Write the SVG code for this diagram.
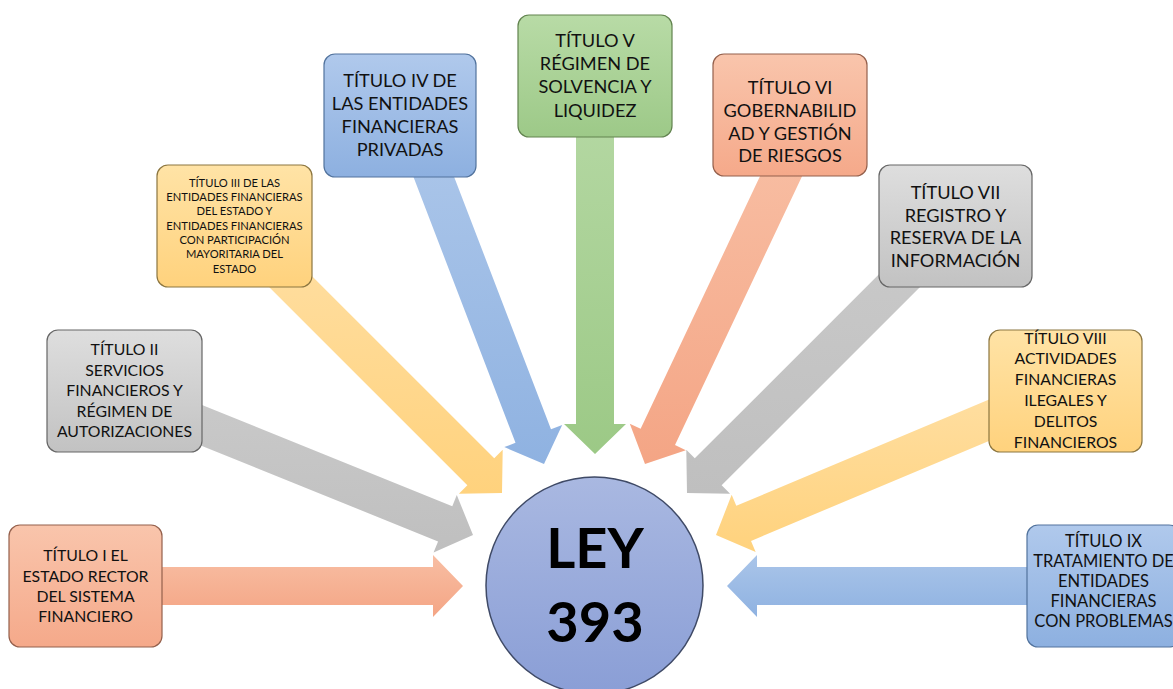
<svg xmlns="http://www.w3.org/2000/svg" width="1173" height="689" viewBox="0 0 1173 689">
<defs>
<linearGradient id="gSal" x1="0" y1="0" x2="0" y2="1"><stop offset="0" stop-color="#f9c5ac"/><stop offset="1" stop-color="#f5a98a"/></linearGradient>
<linearGradient id="gGry" x1="0" y1="0" x2="0" y2="1"><stop offset="0" stop-color="#dedede"/><stop offset="1" stop-color="#c2c2c2"/></linearGradient>
<linearGradient id="gYel" x1="0" y1="0" x2="0" y2="1"><stop offset="0" stop-color="#ffe3a6"/><stop offset="1" stop-color="#ffd27d"/></linearGradient>
<linearGradient id="gBlu" x1="0" y1="0" x2="0" y2="1"><stop offset="0" stop-color="#b0c9ec"/><stop offset="1" stop-color="#8db0e0"/></linearGradient>
<linearGradient id="gGrn" x1="0" y1="0" x2="0" y2="1"><stop offset="0" stop-color="#b8dba6"/><stop offset="1" stop-color="#9dc988"/></linearGradient>
<linearGradient id="aSal" x1="0" y1="0" x2="0" y2="1"><stop offset="0" stop-color="#f8bea3"/><stop offset="1" stop-color="#f4a585"/></linearGradient>
<linearGradient id="aGry" x1="0" y1="0" x2="0" y2="1"><stop offset="0" stop-color="#c9c9c9"/><stop offset="1" stop-color="#bfbfbf"/></linearGradient>
<linearGradient id="aYel" x1="0" y1="0" x2="0" y2="1"><stop offset="0" stop-color="#ffdea0"/><stop offset="1" stop-color="#ffd27d"/></linearGradient>
<linearGradient id="aBlu" x1="0" y1="0" x2="0" y2="1"><stop offset="0" stop-color="#aac5e9"/><stop offset="1" stop-color="#8fb2e1"/></linearGradient>
<linearGradient id="aGrn" x1="0" y1="0" x2="0" y2="1"><stop offset="0" stop-color="#b3d7a1"/><stop offset="1" stop-color="#9cc986"/></linearGradient>
<linearGradient id="gCir" x1="0" y1="0" x2="0" y2="1"><stop offset="0" stop-color="#a9b8e1"/><stop offset="1" stop-color="#8a9ed6"/></linearGradient>
</defs>
<style>
.box{stroke-width:1.2}
.sal{fill:url(#gSal);stroke:#94604c}
.gry{fill:url(#gGry);stroke:#666666}
.yel{fill:url(#gYel);stroke:#8c7640}
.blu{fill:url(#gBlu);stroke:#52739d}
.grn{fill:url(#gGrn);stroke:#62834f}
.t{font-family:Lato,"Liberation Sans",sans-serif;fill:#111111;text-anchor:middle}
.m{font-size:15.8px}
.m2{font-size:16.5px}
.l{font-size:18.2px}
.s{font-size:11.2px}
.big{font-family:Lato,"Liberation Sans",sans-serif;font-weight:bold;font-size:56px;fill:#000;text-anchor:middle}
</style>
<g id="connectors">
<polygon fill="url(#aSal)" points="463,586 433,617 433,605 153,605 153,567 433,567 433,555"/>
<polygon fill="url(#aGry)" points="473,535 433.57,552.5 438.06,541.38 178.45,436.49 192.69,401.25 452.3,506.14 456.79,495.02"/>
<polygon fill="url(#aYel)" points="502,493 458.87,493.71 467.35,485.23 262.29,280.17 289.17,253.29 494.23,458.35 502.71,449.87"/>
<polygon fill="url(#aBlu)" points="544,464 504.31,447.1 515.51,442.8 411.57,172.06 447.05,158.44 550.99,429.18 562.19,424.88"/>
<polygon fill="url(#aGrn)" points="595,454 564,424 576,424 576,129 614,129 614,424 626,424"/>
<polygon fill="url(#aSal)" points="645,464 629.79,423.63 640.64,428.76 773.1,148.5 807.5,164.7 675,445 685.85,450.13"/>
<polygon fill="url(#aGry)" points="687,493 686.29,449.87 694.77,458.35 906.9,246.3 933.8,273.2 721.65,485.23 730.13,493.71"/>
<polygon fill="url(#aYel)" points="716,535 731.65,494.79 736.3,505.85 994.43,397.35 1009.15,432.39 751.02,540.89 755.67,551.95"/>
<polygon fill="url(#aBlu)" points="727,586 757,555 757,567 1037,567 1037,605 757,605 757,617"/>
</g>
<g id="n1">
<rect class="box sal" x="9" y="525" width="153" height="122" rx="11"/>
<text class="t m"><tspan x="85.5" y="561">TÍTULO I EL</tspan><tspan x="85.5" y="581.5">ESTADO RECTOR</tspan><tspan x="85.5" y="602">DEL SISTEMA</tspan><tspan x="85.5" y="622.3">FINANCIERO</tspan></text>
</g>
<g id="n2">
<rect class="box gry" x="47" y="330" width="155" height="122" rx="11"/>
<text class="t m"><tspan x="124.5" y="355">TÍTULO II</tspan><tspan x="124.5" y="375.5">SERVICIOS</tspan><tspan x="124.5" y="396">FINANCIEROS Y</tspan><tspan x="124.5" y="416.5">RÉGIMEN DE</tspan><tspan x="124.5" y="437">AUTORIZACIONES</tspan></text>
</g>
<g id="n3">
<rect class="box yel" x="157" y="165" width="155" height="122" rx="11"/>
<text class="t s"><tspan x="234.5" y="186.7">TÍTULO III DE LAS</tspan><tspan x="234.5" y="201">ENTIDADES FINANCIERAS</tspan><tspan x="234.5" y="215.3">DEL ESTADO Y</tspan><tspan x="234.5" y="229.6">ENTIDADES FINANCIERAS</tspan><tspan x="234.5" y="243.9">CON PARTICIPACIÓN</tspan><tspan x="234.5" y="258.2">MAYORITARIA DEL</tspan><tspan x="234.5" y="272.5">ESTADO</tspan></text>
</g>
<g id="n4">
<rect class="box blu" x="324" y="54" width="152" height="123" rx="11"/>
<text class="t l"><tspan x="400" y="87">TÍTULO IV DE</tspan><tspan x="400" y="110">LAS ENTIDADES</tspan><tspan x="400" y="133">FINANCIERAS</tspan><tspan x="400" y="156">PRIVADAS</tspan></text>
</g>
<g id="n5">
<rect class="box grn" x="518" y="15" width="154" height="122" rx="11"/>
<text class="t l"><tspan x="595" y="46.7">TÍTULO V</tspan><tspan x="595" y="70">RÉGIMEN DE</tspan><tspan x="595" y="93.3">SOLVENCIA Y</tspan><tspan x="595" y="116.6">LIQUIDEZ</tspan></text>
</g>
<g id="n6">
<rect class="box sal" x="713" y="54" width="154" height="122" rx="11"/>
<text class="t l"><tspan x="790" y="94.3">TÍTULO VI</tspan><tspan x="790" y="117">GOBERNABILID</tspan><tspan x="790" y="139.6">AD Y GESTIÓN</tspan><tspan x="790" y="162.3">DE RIESGOS</tspan></text>
</g>
<g id="n7">
<rect class="box gry" x="879" y="165" width="153" height="122" rx="11"/>
<text class="t l"><tspan x="955.5" y="199">TÍTULO VII</tspan><tspan x="955.5" y="221.5">REGISTRO Y</tspan><tspan x="955.5" y="244">RESERVA DE LA</tspan><tspan x="955.5" y="266.5">INFORMACIÓN</tspan></text>
</g>
<g id="n8">
<rect class="box yel" x="989" y="330" width="153" height="122" rx="11"/>
<text class="t m"><tspan x="1065.5" y="343.5">TÍTULO VIII</tspan><tspan x="1065.5" y="364.3">ACTIVIDADES</tspan><tspan x="1065.5" y="385.1">FINANCIERAS</tspan><tspan x="1065.5" y="405.9">ILEGALES Y</tspan><tspan x="1065.5" y="426.7">DELITOS</tspan><tspan x="1065.5" y="447.5">FINANCIEROS</tspan></text>
</g>
<g id="n9">
<rect class="box blu" x="1027" y="525" width="153" height="122" rx="11"/>
<text class="t m2"><tspan x="1103.5" y="547.3">TÍTULO IX</tspan><tspan x="1103.5" y="567.2">TRATAMIENTO DE</tspan><tspan x="1103.5" y="587.1">ENTIDADES</tspan><tspan x="1103.5" y="607">FINANCIERAS</tspan><tspan x="1103.5" y="627">CON PROBLEMAS</tspan></text>
</g>
<g id="center">
<circle cx="594.5" cy="585.5" r="108.5" fill="url(#gCir)" stroke="#3f4a66" stroke-width="1.5"/>
<text class="big"><tspan x="595" y="568">LEY</tspan><tspan x="595" y="642">393</tspan></text>
</g>
</svg>
